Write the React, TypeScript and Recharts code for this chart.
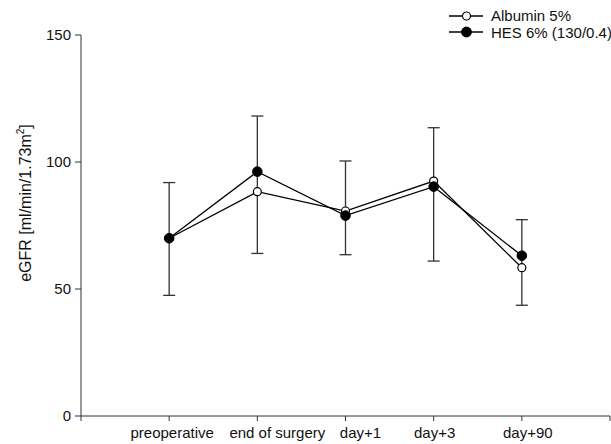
import React from "react";
import { LineChart, Line, XAxis, YAxis, ErrorBar } from "recharts";

// eGFR over time, two fluid groups
const CATEGORIES = ["preoperative", "end of surgery", "day+1", "day+3", "day+90"];
const ALBUMIN = [70.0, 88.3, 80.7, 92.5, 58.4];
const HES = [70.0, 96.2, 78.9, 90.3, 63.1];
const ERR_LOW = [47.5, 64.0, 63.5, 61.0, 43.6];
const ERR_HIGH = [91.9, 118.1, 100.4, 113.5, 77.3];
const Y_TICKS = [0, 50, 100, 150];
const X_TICKS = [0, 1, 2, 3, 4, 5, 6];

// label nudges (px) so the tick texts sit where the original put them
const LABEL_SHIFT = [3, 20, 15, 1, 6];

const FONT = "'Liberation Sans', Arial, sans-serif";
const AXIS = "#333";

const data = CATEGORIES.map((name, i) => ({
    pos: i + 1,
    name,
    albumin: ALBUMIN[i],
    hes: HES[i],
    err: [HES[i] - ERR_LOW[i], ERR_HIGH[i] - HES[i]],
}));

const XTick = ({ x, y, payload }: any) => {
    const idx = payload.value - 1;
    if (idx < 0 || idx >= CATEGORIES.length) return null;
    return (
        <text
            x={x + LABEL_SHIFT[idx]}
            y={y}
            dy="0.71em"
            textAnchor="middle"
            fontSize={15}
            fontFamily={FONT}
            fill="#111"
        >
            {CATEGORIES[idx]}
        </text>
    );
};

const YTitle = () => (
    <text
        x={31}
        y={203}
        transform="rotate(-90 31 203)"
        textAnchor="middle"
        fontSize={16}
        fontFamily={FONT}
        fill="#111"
    >
        eGFR [ml/min/1.73m
        <tspan dy={-7} fontSize={10}>2</tspan>
        <tspan dy={7}>]</tspan>
    </text>
);

// legend drawn as plain html over the chart so it takes no room from the plot
const LegendBox = () => {
    const rows = [
        { label: "Albumin 5%", fill: "#fff", r: 4 },
        { label: "HES 6% (130/0.4)", fill: "#000", r: 4.8 },
    ];
    return (
        <div
            style={{
                position: "absolute",
                left: 449,
                top: 7.5,
                fontFamily: FONT,
                fontSize: 15,
                color: "#111",
            }}
        >
            {rows.map((row) => (
                <div
                    key={row.label}
                    style={{ display: "flex", alignItems: "center", height: 16.5, whiteSpace: "nowrap" }}
                >
                    <svg width={36} height={12} style={{ marginRight: 6 }}>
                        <line x1={0} y1={6} x2={34} y2={6} stroke="#000" strokeWidth={1.3} />
                        <circle cx={17.5} cy={6} r={row.r} fill={row.fill} stroke="#000" strokeWidth={1.2} />
                    </svg>
                    <span>{row.label}</span>
                </div>
            ))}
        </div>
    );
};

export default function App() {
    return (
        <div style={{ position: "absolute", left: 0, top: 0, width: 611, height: 444, background: "#fff" }}>
            <LineChart
                width={611}
                height={444}
                data={data}
                margin={{ top: 35, right: 1, bottom: 0, left: 21 }}
            >
                <XAxis
                    dataKey="pos"
                    type="number"
                    domain={[0, 6]}
                    ticks={X_TICKS}
                    interval={0}
                    height={28}
                    stroke={AXIS}
                    tickSize={5}
                    tickMargin={6}
                    tick={<XTick />}
                />
                <YAxis
                    type="number"
                    domain={[0, 150]}
                    ticks={Y_TICKS}
                    width={60}
                    stroke={AXIS}
                    tickSize={6}
                    tickMargin={4}
                    tick={{ fontSize: 15, fontFamily: FONT, fill: "#111" }}
                    label={{ content: <YTitle /> }}
                />
                {/* error bars first so both lines draw over them */}
                <Line
                    dataKey="hes"
                    stroke="none"
                    dot={false}
                    activeDot={false}
                    legendType="none"
                    isAnimationActive={false}
                >
                    <ErrorBar
                        dataKey="err"
                        direction="y"
                        width={6}
                        stroke="#333"
                        strokeWidth={1.3}
                        isAnimationActive={false}
                    />
                </Line>
                <Line
                    dataKey="albumin"
                    stroke="#000"
                    strokeWidth={1.3}
                    dot={{ r: 4, fill: "#fff", stroke: "#000", strokeWidth: 1.2 }}
                    activeDot={false}
                    isAnimationActive={false}
                />
                <Line
                    dataKey="hes"
                    stroke="#000"
                    strokeWidth={1.3}
                    dot={{ r: 4.8, fill: "#000", stroke: "#000", strokeWidth: 1 }}
                    activeDot={false}
                    isAnimationActive={false}
                />
            </LineChart>
            <LegendBox />
        </div>
    );
}
